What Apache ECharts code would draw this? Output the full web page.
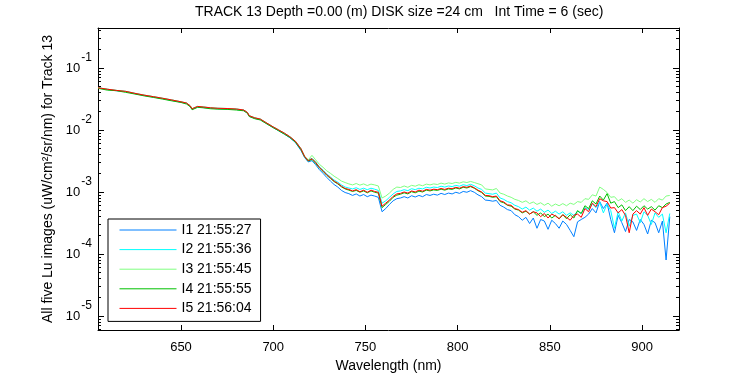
<!DOCTYPE html>
<html>
<head>
<meta charset="utf-8">
<title>Lu images Track 13</title>
<script src="https://cdn.jsdelivr.net/npm/echarts@6/dist/echarts.min.js"></script>
<style>
  html, body { margin: 0; padding: 0; background: #fff; }
  #chart { width: 750px; height: 375px; }
</style>
</head>
<body>
<div id="chart"></div>
<script>
// wavelengths (nm), shared by all five images
const wavelength = [
  605, 610, 615, 620, 625, 630, 635, 640, 645, 650,
  653, 655, 656, 657, 659, 662, 666, 670, 675, 680,
  684, 686, 687, 688, 690, 693, 696, 700, 703, 706,
  709, 712, 715,
  717, 719, 721, 723, 725, 727, 729, 731, 733, 735,
  737, 739, 741, 743, 745, 747, 749, 751, 753, 755,
  757, 759, 761, 763, 765, 767, 769, 771, 773, 775,
  777, 779, 781, 783, 785, 787, 789, 791, 793, 795,
  797, 799, 801, 803, 805, 807, 809, 811, 813, 815,
  817, 819, 821, 823, 825, 827, 829, 831, 833, 835,
  837, 839, 841, 843, 845, 847, 849, 851, 853, 855,
  857, 859, 861, 863, 865, 867, 869, 871, 873, 875,
  877, 879, 881, 883, 885, 887, 889, 891, 893, 895,
  897, 899, 901, 903, 905, 907, 909, 911, 913, 915
];

// I1 21:55:27
const lu1 = [
  4.75e-2, 4.5e-2, 4.3e-2, 4.15e-2, 3.85e-2, 3.6e-2, 3.4e-2, 3.2e-2, 3.0e-2, 2.8e-2,
  2.68e-2, 2.4e-2, 2.16e-2, 2.3e-2, 2.35e-2, 2.3e-2, 2.24e-2, 2.2e-2, 2.18e-2, 2.14e-2,
  2.06e-2, 1.88e-2, 1.66e-2, 1.57e-2, 1.54e-2, 1.47e-2, 1.29e-2, 1.09e-2, 9.7e-3, 8.6e-3,
  7.5e-3, 6.3e-3, 4.7e-3,
  3.6e-3, 3.05e-3, 3.2e-3, 2.75e-3, 2.3e-3, 2.0e-3, 1.72e-3, 1.5e-3, 1.32e-3, 1.2e-3,
  1.06e-3, 9.8e-4, 9.4e-4, 8.8e-4, 9.3e-4, 8.6e-4, 9.1e-4, 8.4e-4, 8.9e-4, 8.6e-4,
  8.2e-4, 4.8e-4, 5.4e-4, 6.3e-4, 7.2e-4, 7.8e-4, 8.0e-4, 8.4e-4, 8.0e-4, 8.7e-4,
  8.3e-4, 8.8e-4, 8.4e-4, 9.1e-4, 8.8e-4, 9.2e-4, 8.9e-4, 9.5e-4, 9.1e-4, 9.6e-4,
  9.3e-4, 9.9e-4, 9.5e-4, 1.02e-3, 9.9e-4, 1.05e-3, 9.9e-4, 9.0e-4, 8.4e-4, 7.4e-4,
  7.3e-4, 7.1e-4, 7.3e-4, 6.1e-4, 5.7e-4, 5.2e-4, 5.0e-4, 4.3e-4, 4.0e-4, 3.5e-4,
  3.9e-4, 3.1e-4, 3.8e-4, 2.6e-4, 3.6e-4, 3.4e-4, 2.5e-4, 3.5e-4, 3.1e-4, 2.6e-4,
  3.4e-4, 3.0e-4, 2.4e-4, 1.9e-4, 3.3e-4, 3.6e-4, 3.9e-4, 4.4e-4, 5.4e-4, 4.6e-4,
  7.0e-4, 5.4e-4, 6.6e-4, 3.6e-4, 2.2e-4, 4.2e-4, 3.2e-4, 2.3e-4, 3.6e-4, 3.3e-4,
  2.4e-4, 3.6e-4, 3.0e-4, 2.1e-4, 3.5e-4, 3.2e-4, 2.2e-4, 3.4e-4, 8.0e-5, 4.0e-4
];

// I2 21:55:36
const lu2 = [
  4.8e-2, 4.55e-2, 4.35e-2, 4.2e-2, 3.9e-2, 3.65e-2, 3.45e-2, 3.25e-2, 3.05e-2, 2.85e-2,
  2.72e-2, 2.45e-2, 2.2e-2, 2.35e-2, 2.4e-2, 2.35e-2, 2.28e-2, 2.24e-2, 2.22e-2, 2.18e-2,
  2.1e-2, 1.92e-2, 1.7e-2, 1.6e-2, 1.57e-2, 1.5e-2, 1.32e-2, 1.12e-2, 1.0e-2, 8.9e-3,
  7.8e-3, 6.6e-3, 5.0e-3,
  3.7e-3, 3.25e-3, 3.5e-3, 3.05e-3, 2.55e-3, 2.25e-3, 1.95e-3, 1.75e-3, 1.56e-3, 1.44e-3,
  1.3e-3, 1.2e-3, 1.16e-3, 1.12e-3, 1.17e-3, 1.1e-3, 1.15e-3, 1.09e-3, 1.15e-3, 1.11e-3,
  1.06e-3, 6.6e-4, 7.2e-4, 8.2e-4, 9.3e-4, 1.02e-3, 1.04e-3, 1.09e-3, 1.05e-3, 1.13e-3,
  1.09e-3, 1.15e-3, 1.12e-3, 1.19e-3, 1.16e-3, 1.2e-3, 1.18e-3, 1.24e-3, 1.2e-3, 1.25e-3,
  1.22e-3, 1.28e-3, 1.24e-3, 1.31e-3, 1.27e-3, 1.33e-3, 1.26e-3, 1.16e-3, 1.1e-3, 9.6e-4,
  9.4e-4, 9.2e-4, 9.6e-4, 8.0e-4, 7.6e-4, 7.0e-4, 6.7e-4, 6.1e-4, 5.8e-4, 5.3e-4,
  5.7e-4, 5.1e-4, 5.5e-4, 4.9e-4, 5.3e-4, 4.7e-4, 5.1e-4, 4.5e-4, 4.9e-4, 4.4e-4,
  4.8e-4, 4.2e-4, 4.6e-4, 4.2e-4, 4.9e-4, 4.5e-4, 5.6e-4, 5.2e-4, 6.4e-4, 5.6e-4,
  6.8e-4, 4.6e-4, 6.4e-4, 5.0e-4, 2.6e-4, 4.8e-4, 3.4e-4, 4.6e-4, 2.8e-4, 4.2e-4,
  4.4e-4, 3.2e-4, 4.8e-4, 4.2e-4, 3.0e-4, 4.6e-4, 3.9e-4, 4.4e-4, 2.2e-4, 4.5e-4
];

// I3 21:55:45
const lu3 = [
  4.8e-2, 4.55e-2, 4.35e-2, 4.2e-2, 3.9e-2, 3.65e-2, 3.45e-2, 3.25e-2, 3.05e-2, 2.85e-2,
  2.72e-2, 2.45e-2, 2.2e-2, 2.35e-2, 2.4e-2, 2.35e-2, 2.28e-2, 2.24e-2, 2.22e-2, 2.18e-2,
  2.1e-2, 1.92e-2, 1.7e-2, 1.6e-2, 1.57e-2, 1.5e-2, 1.32e-2, 1.12e-2, 1.0e-2, 8.9e-3,
  7.8e-3, 6.6e-3, 5.0e-3,
  3.8e-3, 3.3e-3, 3.9e-3, 3.3e-3, 2.8e-3, 2.5e-3, 2.2e-3, 2.0e-3, 1.8e-3, 1.65e-3,
  1.5e-3, 1.42e-3, 1.35e-3, 1.3e-3, 1.37e-3, 1.29e-3, 1.35e-3, 1.27e-3, 1.34e-3, 1.3e-3,
  1.25e-3, 8.0e-4, 8.6e-4, 9.6e-4, 1.1e-3, 1.2e-3, 1.18e-3, 1.25e-3, 1.19e-3, 1.28e-3,
  1.24e-3, 1.31e-3, 1.26e-3, 1.34e-3, 1.3e-3, 1.35e-3, 1.32e-3, 1.39e-3, 1.34e-3, 1.4e-3,
  1.37e-3, 1.43e-3, 1.39e-3, 1.46e-3, 1.42e-3, 1.48e-3, 1.42e-3, 1.36e-3, 1.3e-3, 1.12e-3,
  1.1e-3, 1.08e-3, 1.14e-3, 9.6e-4, 9.2e-4, 8.6e-4, 8.2e-4, 7.6e-4, 7.3e-4, 6.8e-4,
  7.2e-4, 6.5e-4, 6.9e-4, 6.3e-4, 6.7e-4, 6.1e-4, 6.6e-4, 5.9e-4, 6.4e-4, 6.0e-4,
  6.5e-4, 6.0e-4, 6.6e-4, 6.3e-4, 7.0e-4, 6.8e-4, 7.8e-4, 7.6e-4, 9.0e-4, 8.6e-4,
  1.2e-3, 1.1e-3, 9.8e-4, 8.2e-4, 8.4e-4, 7.2e-4, 7.8e-4, 6.8e-4, 7.4e-4, 6.6e-4,
  7.5e-4, 6.9e-4, 7.8e-4, 7.0e-4, 7.6e-4, 6.8e-4, 7.8e-4, 7.4e-4, 8.6e-4, 8.8e-4
];

// I4 21:55:55
const lu4 = [
  4.7e-2, 4.4e-2, 4.3e-2, 4.05e-2, 3.8e-2, 3.55e-2, 3.35e-2, 3.15e-2, 2.95e-2, 2.78e-2,
  2.62e-2, 2.38e-2, 2.12e-2, 2.28e-2, 2.32e-2, 2.28e-2, 2.2e-2, 2.17e-2, 2.15e-2, 2.1e-2,
  2.04e-2, 1.86e-2, 1.65e-2, 1.56e-2, 1.52e-2, 1.45e-2, 1.28e-2, 1.09e-2, 9.7e-3, 8.6e-3,
  7.6e-3, 6.4e-3, 4.85e-3,
  3.7e-3, 3.15e-3, 3.35e-3, 2.9e-3, 2.45e-3, 2.15e-3, 1.86e-3, 1.66e-3, 1.47e-3, 1.35e-3,
  1.21e-3, 1.12e-3, 1.07e-3, 1.02e-3, 1.06e-3, 9.9e-4, 1.04e-3, 9.7e-4, 1.04e-3, 9.9e-4,
  9.6e-4, 5.6e-4, 6.3e-4, 7.1e-4, 8.2e-4, 8.9e-4, 9.2e-4, 9.7e-4, 9.3e-4, 1.01e-3,
  9.7e-4, 1.03e-3, 1.0e-3, 1.07e-3, 1.04e-3, 1.08e-3, 1.06e-3, 1.11e-3, 1.07e-3, 1.12e-3,
  1.1e-3, 1.16e-3, 1.12e-3, 1.19e-3, 1.16e-3, 1.22e-3, 1.15e-3, 1.05e-3, 9.8e-4, 8.6e-4,
  8.5e-4, 8.2e-4, 8.4e-4, 7.0e-4, 6.7e-4, 6.1e-4, 5.9e-4, 5.3e-4, 5.1e-4, 4.6e-4,
  4.9e-4, 4.4e-4, 4.8e-4, 4.2e-4, 4.6e-4, 4.0e-4, 4.4e-4, 3.8e-4, 4.2e-4, 3.7e-4,
  4.3e-4, 3.7e-4, 4.3e-4, 3.8e-4, 5.0e-4, 4.5e-4, 6.0e-4, 5.4e-4, 7.2e-4, 6.4e-4,
  8.6e-4, 7.4e-4, 9.4e-4, 6.6e-4, 7.0e-4, 5.6e-4, 6.2e-4, 5.0e-4, 5.8e-4, 5.0e-4,
  5.9e-4, 5.2e-4, 6.0e-4, 5.3e-4, 5.8e-4, 5.1e-4, 6.0e-4, 5.6e-4, 6.4e-4, 6.8e-4
];

// I5 21:56:04
const lu5 = [
  4.8e-2, 4.55e-2, 4.35e-2, 4.2e-2, 3.9e-2, 3.65e-2, 3.45e-2, 3.25e-2, 3.05e-2, 2.85e-2,
  2.72e-2, 2.45e-2, 2.2e-2, 2.35e-2, 2.4e-2, 2.35e-2, 2.28e-2, 2.24e-2, 2.22e-2, 2.18e-2,
  2.1e-2, 1.92e-2, 1.7e-2, 1.6e-2, 1.57e-2, 1.5e-2, 1.32e-2, 1.12e-2, 1.0e-2, 8.9e-3,
  7.8e-3, 6.6e-3, 5.0e-3,
  3.75e-3, 3.2e-3, 3.45e-3, 3.0e-3, 2.5e-3, 2.2e-3, 1.9e-3, 1.7e-3, 1.5e-3, 1.38e-3,
  1.24e-3, 1.14e-3, 1.1e-3, 1.04e-3, 1.09e-3, 1.01e-3, 1.07e-3, 9.9e-4, 1.07e-3, 1.02e-3,
  9.9e-4, 5.9e-4, 6.6e-4, 7.4e-4, 8.5e-4, 9.3e-4, 9.5e-4, 1.0e-3, 9.6e-4, 1.04e-3,
  1.0e-3, 1.07e-3, 1.03e-3, 1.1e-3, 1.07e-3, 1.11e-3, 1.09e-3, 1.14e-3, 1.1e-3, 1.15e-3,
  1.13e-3, 1.19e-3, 1.15e-3, 1.22e-3, 1.19e-3, 1.25e-3, 1.17e-3, 1.07e-3, 1.0e-3, 8.8e-4,
  8.7e-4, 8.4e-4, 8.6e-4, 7.2e-4, 6.9e-4, 6.2e-4, 6.1e-4, 5.4e-4, 5.2e-4, 4.7e-4,
  5.0e-4, 4.4e-4, 4.8e-4, 4.6e-4, 4.0e-4, 4.5e-4, 3.8e-4, 4.4e-4, 4.1e-4, 3.7e-4,
  4.3e-4, 3.9e-4, 3.5e-4, 4.2e-4, 4.4e-4, 3.9e-4, 5.4e-4, 4.8e-4, 6.6e-4, 5.8e-4,
  7.8e-4, 7.2e-4, 7.0e-4, 5.5e-4, 5.6e-4, 4.6e-4, 5.2e-4, 4.2e-4, 2.2e-4, 4.4e-4,
  5.0e-4, 4.4e-4, 5.6e-4, 4.2e-4, 5.3e-4, 4.8e-4, 4.3e-4, 5.6e-4, 5.9e-4, 6.6e-4
];

const names = ['I1 21:55:27', 'I2 21:55:36', 'I3 21:55:45', 'I4 21:55:55', 'I5 21:56:04'];
const colors = ['#0080ff', '#00ffff', '#80ff80', '#00c000', '#ff0000'];
const values = [lu1, lu2, lu3, lu4, lu5];

const xTicks = [650, 700, 750, 800, 850, 900];
const yMajor = [1e-5, 1e-4, 1e-3, 1e-2, 1e-1];
// 2..9 x each decade, inside the axis range
const yMinor = [];
[1e-6, 1e-5, 1e-4, 1e-3, 1e-2, 1e-1].forEach(d => {
  for (let m = 2; m <= 9; m++) {
    const v = m * d;
    if (v > 5.94e-6 && v < 0.4416) yMinor.push(v);
  }
});

const font = '"Liberation Sans", Arial, Helvetica, sans-serif';
const black = '#000';

const chart = echarts.init(document.getElementById('chart'));

const line = { show: true, lineStyle: { color: black, width: 1 } };
const yLog = (pos, ticks, len, withLine) => ({
  type: 'log',
  logBase: 10,
  position: pos,
  min: 5.94e-6,
  max: 0.4416,
  axisLine: withLine ? line : { show: false },
  axisTick: { show: true, inside: true, length: len, customValues: ticks, lineStyle: { color: black } },
  axisLabel: { show: false },
  splitLine: { show: false }
});

const yLeft = yLog('left', yMajor, 6, true);
yLeft.axisLabel = {
  show: true,
  customValues: yMajor,
  margin: 6,
  formatter: v => '{b|10}{e|' + Math.round(Math.log10(v)) + '}',
  rich: {
    b: { fontSize: 13, fontFamily: font, color: black },
    e: { fontSize: 12, fontFamily: font, color: black, padding: [0, 0, 20, 1] }
  }
};
yLeft.name = 'All five Lu images (uW/cm\u00B2/sr/nm) for Track 13';
yLeft.nameLocation = 'middle';
yLeft.nameGap = 38;
yLeft.nameTextStyle = { fontSize: 14, fontFamily: font, color: black };

const option = {
  animation: false,
  backgroundColor: '#fff',
  textStyle: { fontFamily: font },
  title: {
    text: 'TRACK 13 Depth =0.00 (m) DISK size =24 cm   Int Time = 6 (sec)',
    left: 195,
    top: 5,
    padding: 0,
    textStyle: { fontSize: 14, fontWeight: 'normal', color: black, fontFamily: font }
  },
  grid: { left: 98, top: 28, width: 581, height: 302, outerBoundsMode: 'none', containLabel: false },
  legend: {
    orient: 'vertical',
    left: 108,
    top: 219,
    padding: [4, 9, 6, 11],
    itemWidth: 57,
    itemHeight: 14,
    itemGap: 5.6,
    borderColor: black,
    borderWidth: 1,
    borderRadius: 0,
    backgroundColor: '#fff',
    selectedMode: false,
    itemStyle: { opacity: 0 },
    lineStyle: { width: 1 },
    textStyle: { fontSize: 14, lineHeight: 14, color: black, fontFamily: font },
    data: names
  },
  xAxis: [
    {
      type: 'value',
      position: 'bottom',
      min: 605,
      max: 920,
      axisLine: line,
      axisTick: { show: true, inside: true, length: 5, customValues: xTicks, lineStyle: { color: black } },
      axisLabel: { customValues: xTicks, margin: 11, fontSize: 13, color: black, fontFamily: font },
      splitLine: { show: false },
      name: 'Wavelength (nm)',
      nameLocation: 'middle',
      nameGap: 27,
      nameTextStyle: { fontSize: 14, color: black, fontFamily: font }
    },
    {
      type: 'value',
      position: 'top',
      min: 605,
      max: 920,
      axisLine: line,
      axisTick: { show: true, inside: true, length: 5, customValues: xTicks, lineStyle: { color: black } },
      axisLabel: { show: false },
      splitLine: { show: false }
    }
  ],
  yAxis: [
    yLeft,
    yLog('left', yMinor, 3, false),
    yLog('right', yMajor, 6, true),
    yLog('right', yMinor, 3, false)
  ],
  series: names.map((name, i) => ({
    name: name,
    type: 'line',
    xAxisIndex: 0,
    yAxisIndex: 0,
    data: wavelength.map((w, k) => [w, values[i][k]]),
    symbol: 'none',
    showSymbol: false,
    color: colors[i],
    lineStyle: { color: colors[i], width: 1 },
    emphasis: { disabled: true },
    z: 2 + i
  }))
};

chart.setOption(option);
</script>
</body>
</html>
